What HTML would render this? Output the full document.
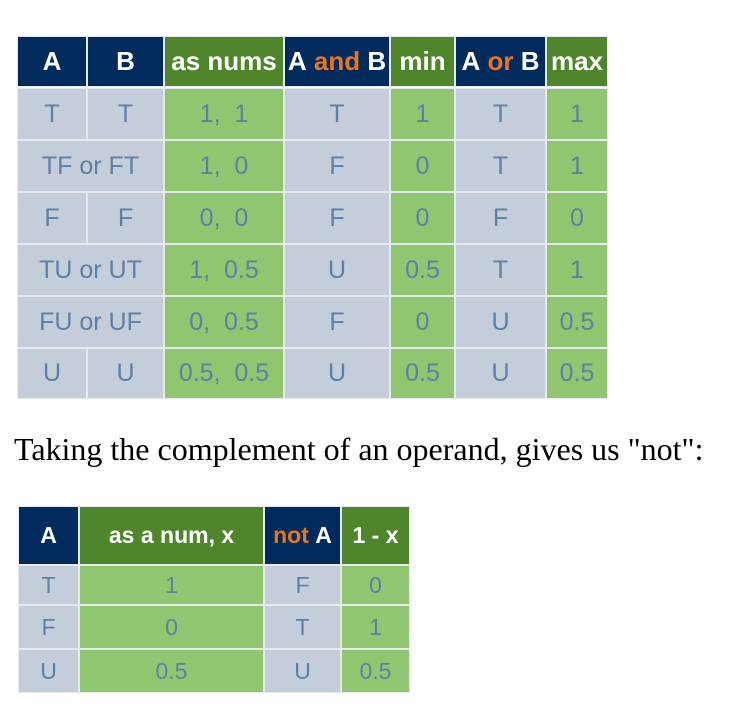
<!DOCTYPE html><html><head><style>
body{margin:0;width:736px;height:716px;background:#fff;position:relative;overflow:hidden;font-family:"Liberation Sans",sans-serif}
.c{position:absolute;box-sizing:border-box;border:1px solid #e6eaef;display:flex;align-items:center;justify-content:center;color:#5e7fa6;font-size:25px;white-space:nowrap}
.n{background:#002b5c;color:#fff;font-weight:bold;font-size:26px}
.g{background:#4f862b;color:#fff;font-weight:bold;font-size:26px}
.s{background:#c4cdda}
.l{background:#8fc66f}
.o{color:#e7761f}
.t{position:absolute;left:14px;top:431px;font-family:"Liberation Serif",serif;font-size:32px;color:#000;white-space:nowrap}
.b .c{font-size:23px}
</style></head><body>
<div class="c n" style="left:17px;top:36px;width:70px;height:51px">A</div>
<div class="c n" style="left:87px;top:36px;width:77px;height:51px">B</div>
<div class="c g" style="left:164px;top:36px;width:120px;height:51px">as nums</div>
<div class="c n" style="left:284px;top:36px;width:106px;height:51px">A&nbsp;<span class="o">and</span>&nbsp;B</div>
<div class="c g" style="left:390px;top:36px;width:65px;height:51px">min</div>
<div class="c n" style="left:455px;top:36px;width:91px;height:51px">A&nbsp;<span class="o">or</span>&nbsp;B</div>
<div class="c g" style="left:546px;top:36px;width:62px;height:51px">max</div>

<div class="c s" style="left:17px;top:88px;width:70px;height:52px">T</div>
<div class="c s" style="left:87px;top:88px;width:77px;height:52px">T</div>
<div class="c l" style="left:164px;top:88px;width:120px;height:52px">1,&nbsp; 1</div>
<div class="c s" style="left:284px;top:88px;width:106px;height:52px">T</div>
<div class="c l" style="left:390px;top:88px;width:65px;height:52px">1</div>
<div class="c s" style="left:455px;top:88px;width:91px;height:52px">T</div>
<div class="c l" style="left:546px;top:88px;width:62px;height:52px">1</div>

<div class="c s" style="left:17px;top:140px;width:147px;height:52px">TF or FT</div>
<div class="c l" style="left:164px;top:140px;width:120px;height:52px">1,&nbsp; 0</div>
<div class="c s" style="left:284px;top:140px;width:106px;height:52px">F</div>
<div class="c l" style="left:390px;top:140px;width:65px;height:52px">0</div>
<div class="c s" style="left:455px;top:140px;width:91px;height:52px">T</div>
<div class="c l" style="left:546px;top:140px;width:62px;height:52px">1</div>

<div class="c s" style="left:17px;top:192px;width:70px;height:52px">F</div>
<div class="c s" style="left:87px;top:192px;width:77px;height:52px">F</div>
<div class="c l" style="left:164px;top:192px;width:120px;height:52px">0,&nbsp; 0</div>
<div class="c s" style="left:284px;top:192px;width:106px;height:52px">F</div>
<div class="c l" style="left:390px;top:192px;width:65px;height:52px">0</div>
<div class="c s" style="left:455px;top:192px;width:91px;height:52px">F</div>
<div class="c l" style="left:546px;top:192px;width:62px;height:52px">0</div>

<div class="c s" style="left:17px;top:244px;width:147px;height:52px">TU or UT</div>
<div class="c l" style="left:164px;top:244px;width:120px;height:52px">1,&nbsp; 0.5</div>
<div class="c s" style="left:284px;top:244px;width:106px;height:52px">U</div>
<div class="c l" style="left:390px;top:244px;width:65px;height:52px">0.5</div>
<div class="c s" style="left:455px;top:244px;width:91px;height:52px">T</div>
<div class="c l" style="left:546px;top:244px;width:62px;height:52px">1</div>

<div class="c s" style="left:17px;top:296px;width:147px;height:52px">FU or UF</div>
<div class="c l" style="left:164px;top:296px;width:120px;height:52px">0,&nbsp; 0.5</div>
<div class="c s" style="left:284px;top:296px;width:106px;height:52px">F</div>
<div class="c l" style="left:390px;top:296px;width:65px;height:52px">0</div>
<div class="c s" style="left:455px;top:296px;width:91px;height:52px">U</div>
<div class="c l" style="left:546px;top:296px;width:62px;height:52px">0.5</div>

<div class="c s" style="left:17px;top:348px;width:70px;height:51px">U</div>
<div class="c s" style="left:87px;top:348px;width:77px;height:51px">U</div>
<div class="c l" style="left:164px;top:348px;width:120px;height:51px">0.5,&nbsp; 0.5</div>
<div class="c s" style="left:284px;top:348px;width:106px;height:51px">U</div>
<div class="c l" style="left:390px;top:348px;width:65px;height:51px">0.5</div>
<div class="c s" style="left:455px;top:348px;width:91px;height:51px">U</div>
<div class="c l" style="left:546px;top:348px;width:62px;height:51px">0.5</div>

<div class="t">Taking the complement of an operand, gives us "not":</div>

<div class="b">
<div class="c n" style="left:18px;top:506px;width:61px;height:59px">A</div>
<div class="c g" style="left:79px;top:506px;width:185px;height:59px">as a num, x</div>
<div class="c n" style="left:264px;top:506px;width:77px;height:59px"><span class="o">not</span>&nbsp;A</div>
<div class="c g" style="left:341px;top:506px;width:69px;height:59px">1 - x</div>

<div class="c s" style="left:18px;top:565px;width:61px;height:40px">T</div>
<div class="c l" style="left:79px;top:565px;width:185px;height:40px">1</div>
<div class="c s" style="left:264px;top:565px;width:77px;height:40px">F</div>
<div class="c l" style="left:341px;top:565px;width:69px;height:40px">0</div>

<div class="c s" style="left:18px;top:605px;width:61px;height:44px">F</div>
<div class="c l" style="left:79px;top:605px;width:185px;height:44px">0</div>
<div class="c s" style="left:264px;top:605px;width:77px;height:44px">T</div>
<div class="c l" style="left:341px;top:605px;width:69px;height:44px">1</div>

<div class="c s" style="left:18px;top:649px;width:61px;height:44px">U</div>
<div class="c l" style="left:79px;top:649px;width:185px;height:44px">0.5</div>
<div class="c s" style="left:264px;top:649px;width:77px;height:44px">U</div>
<div class="c l" style="left:341px;top:649px;width:69px;height:44px">0.5</div>
</div>
</body></html>
